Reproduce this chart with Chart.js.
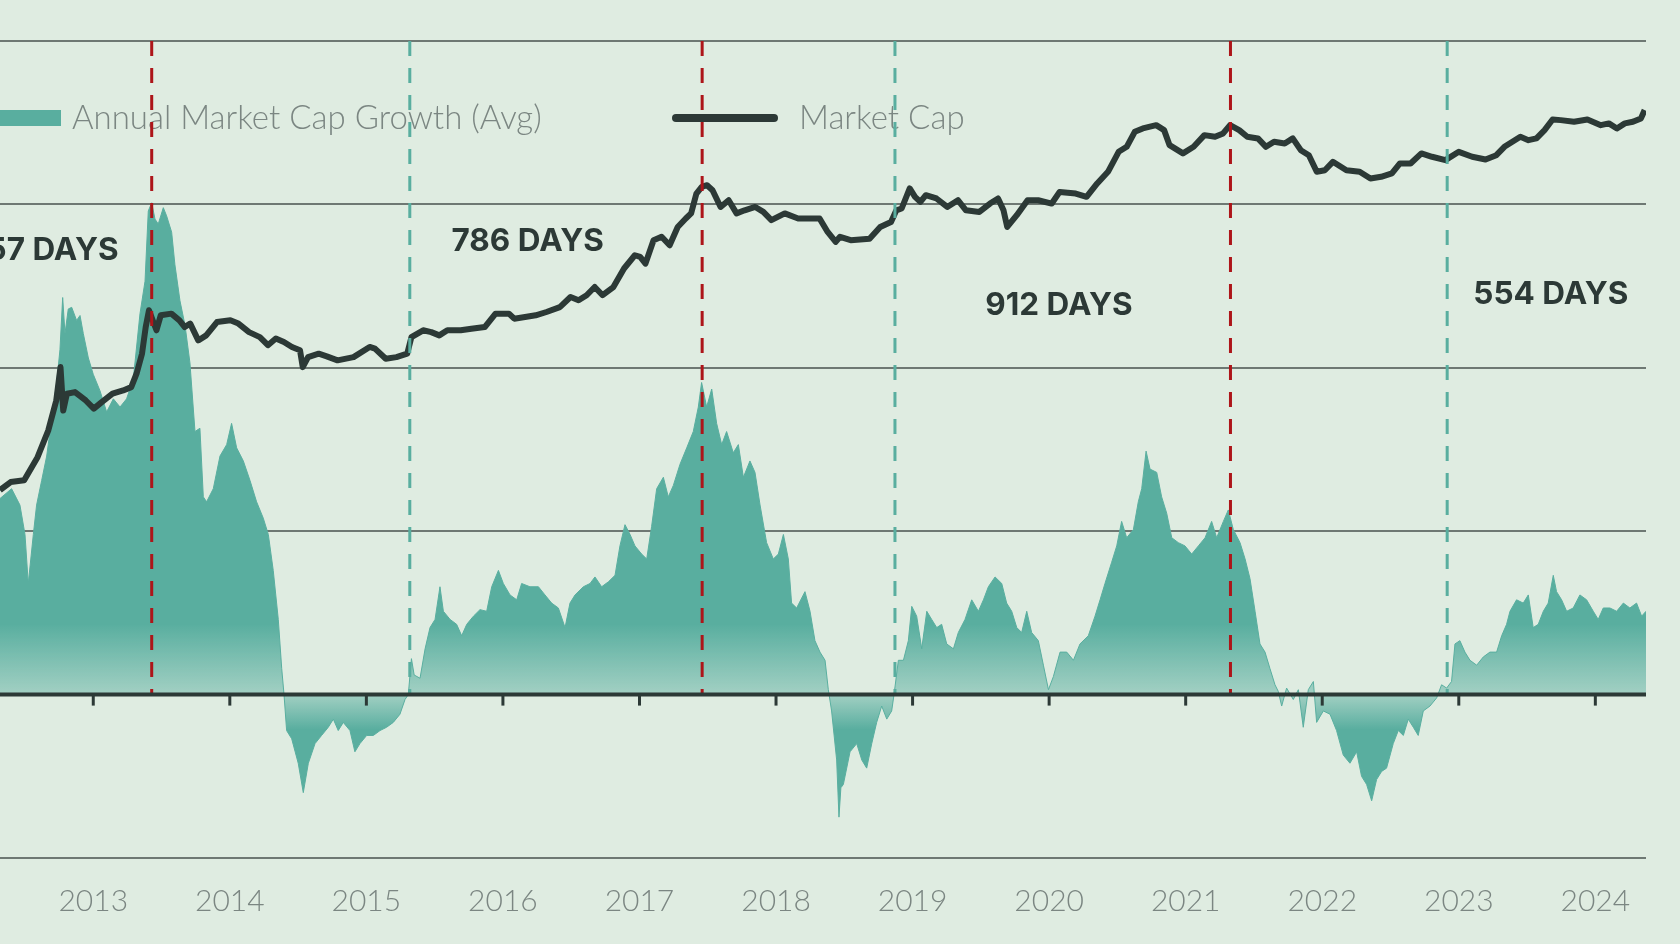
<!DOCTYPE html>
<html lang="en">
<head>
    <meta charset="UTF-8">
    <title>Market Cap Cycles</title>
    <script src="https://cdn.jsdelivr.net/npm/chart.js"></script>
    <style>
        html, body { margin: 0; padding: 0; background: #dfece1; overflow: hidden; }
        .chart-container { position: relative; width: 1680px; height: 944px; }
    </style>
</head>
<body>
<div class="chart-container"><canvas id="cycles"></canvas></div>
<script>
    // Annual market cap growth (avg), % - decimal year / value
    const growthDates = [
        2012.317, 2012.402, 2012.463, 2012.500, 2012.524, 2012.561, 2012.585, 2012.622, 2012.659, 2012.683,
        2012.732, 2012.756, 2012.776, 2012.793, 2012.817, 2012.842, 2012.878, 2012.903, 2012.927, 2012.964,
        2013.000, 2013.049, 2013.098, 2013.147, 2013.196, 2013.244, 2013.293, 2013.342, 2013.379, 2013.403,
        2013.428, 2013.452, 2013.476, 2013.513, 2013.537, 2013.574, 2013.598, 2013.635, 2013.672, 2013.708,
        2013.745, 2013.781, 2013.806, 2013.830, 2013.879, 2013.928, 2013.977, 2014.013, 2014.050, 2014.099,
        2014.148, 2014.196, 2014.245, 2014.282, 2014.318, 2014.355, 2014.380, 2014.397, 2014.416, 2014.453,
        2014.501, 2014.538, 2014.575, 2014.624, 2014.672, 2014.721, 2014.758, 2014.794, 2014.831, 2014.880,
        2014.916, 2014.953, 2015.002, 2015.051, 2015.100, 2015.148, 2015.197, 2015.246, 2015.283, 2015.307,
        2015.330, 2015.350, 2015.393, 2015.430, 2015.466, 2015.503, 2015.539, 2015.564, 2015.613, 2015.661,
        2015.698, 2015.735, 2015.784, 2015.832, 2015.881, 2015.918, 2015.967, 2016.003, 2016.052, 2016.101,
        2016.137, 2016.198, 2016.260, 2016.308, 2016.357, 2016.406, 2016.455, 2016.491, 2016.528, 2016.589,
        2016.638, 2016.674, 2016.723, 2016.772, 2016.821, 2016.857, 2016.894, 2016.931, 2016.967, 2017.016,
        2017.053, 2017.089, 2017.126, 2017.175, 2017.211, 2017.248, 2017.297, 2017.346, 2017.394, 2017.431,
        2017.455, 2017.492, 2017.529, 2017.565, 2017.602, 2017.638, 2017.687, 2017.724, 2017.761, 2017.809,
        2017.846, 2017.883, 2017.931, 2017.980, 2018.017, 2018.054, 2018.090, 2018.114, 2018.151, 2018.212,
        2018.249, 2018.285, 2018.322, 2018.359, 2018.383, 2018.407, 2018.444, 2018.461, 2018.475, 2018.493,
        2018.542, 2018.591, 2018.628, 2018.664, 2018.701, 2018.737, 2018.774, 2018.811, 2018.847, 2018.864,
        2018.896, 2018.933, 2018.969, 2018.994, 2019.030, 2019.067, 2019.104, 2019.140, 2019.177, 2019.213,
        2019.250, 2019.299, 2019.335, 2019.384, 2019.433, 2019.482, 2019.519, 2019.555, 2019.604, 2019.653,
        2019.689, 2019.726, 2019.763, 2019.799, 2019.836, 2019.872, 2019.921, 2019.958, 2019.995, 2020.031,
        2020.080, 2020.129, 2020.178, 2020.226, 2020.287, 2020.336, 2020.373, 2020.409, 2020.458, 2020.495,
        2020.531, 2020.568, 2020.617, 2020.653, 2020.678, 2020.710, 2020.739, 2020.788, 2020.824, 2020.861,
        2020.898, 2020.946, 2020.995, 2021.044, 2021.093, 2021.142, 2021.190, 2021.227, 2021.276, 2021.312,
        2021.349, 2021.398, 2021.435, 2021.471, 2021.508, 2021.544, 2021.581, 2021.617, 2021.654, 2021.678,
        2021.703, 2021.739, 2021.788, 2021.825, 2021.861, 2021.898, 2021.935, 2021.959, 2022.008, 2022.057,
        2022.105, 2022.154, 2022.203, 2022.252, 2022.288, 2022.325, 2022.362, 2022.398, 2022.435, 2022.471,
        2022.520, 2022.557, 2022.594, 2022.630, 2022.667, 2022.703, 2022.740, 2022.789, 2022.838, 2022.874,
        2022.911, 2022.947, 2022.972, 2023.008, 2023.045, 2023.082, 2023.131, 2023.179, 2023.228, 2023.277,
        2023.314, 2023.350, 2023.375, 2023.423, 2023.472, 2023.509, 2023.545, 2023.582, 2023.619, 2023.655,
        2023.692, 2023.716, 2023.753, 2023.790, 2023.838, 2023.887, 2023.936, 2023.985, 2024.021, 2024.058,
        2024.107, 2024.156, 2024.205, 2024.253, 2024.302, 2024.339, 2024.371
    ];
    const growthValues = [
        120, 126, 116, 98, 68, 98, 116, 131, 146, 161,
        191, 211, 243, 221, 236, 237, 229, 232, 221, 206,
        196, 186, 173, 181, 176, 181, 193, 233, 253, 296,
        301, 291, 288, 298, 293, 283, 263, 241, 226, 203,
        161, 163, 121, 118, 126, 146, 153, 166, 151, 143,
        131, 118, 108, 98, 76, 46, 16, 0, -22, -27,
        -42, -60, -42, -30, -25, -20, -15, -22, -17, -22,
        -35, -30, -25, -25, -22, -20, -17, -12, -3, 0,
        22, 12, 10, 28, 41, 46, 66, 51, 46, 43,
        36, 43, 48, 52, 51, 66, 76, 68, 61, 58,
        68, 66, 66, 61, 56, 53, 41, 56, 61, 66,
        68, 72, 66, 69, 73, 91, 104, 98, 91, 86,
        83, 103, 126, 133, 121, 128, 141, 151, 161, 176,
        191, 176, 187, 166, 153, 161, 148, 153, 133, 143,
        136, 116, 93, 83, 86, 98, 83, 56, 53, 63,
        51, 33, 26, 21, 3, -10, -40, -75, -57, -55,
        -35, -30, -40, -45, -30, -17, -7, -15, -10, 0,
        21, 21, 33, 54, 48, 28, 51, 46, 41, 43,
        31, 28, 38, 46, 58, 51, 58, 66, 72, 68,
        56, 51, 41, 38, 51, 38, 33, 18, 3, 11,
        26, 26, 21, 31, 36, 48, 58, 68, 81, 91,
        106, 96, 101, 118, 126, 149, 138, 136, 121, 111,
        96, 93, 91, 86, 91, 96, 106, 96, 106, 113,
        101, 93, 83, 71, 51, 31, 26, 16, 6, 2,
        -7, 4, -3, 3, -20, 3, 8, -17, -10, -12,
        -22, -37, -42, -35, -50, -55, -65, -52, -47, -45,
        -30, -22, -25, -15, -20, -25, -10, -7, -2, 6,
        4, 8, 31, 33, 26, 21, 18, 23, 26, 26,
        36, 43, 51, 58, 56, 61, 41, 43, 51, 56,
        73, 63, 58, 51, 53, 61, 58, 51, 46, 53,
        53, 51, 56, 53, 56, 48, 51
    ];

    // Market cap, USD billions (log axis)
    const capDates = [
        2012.317, 2012.395, 2012.494, 2012.592, 2012.670, 2012.729, 2012.760, 2012.780, 2012.807, 2012.866,
        2012.945, 2013.004, 2013.062, 2013.141, 2013.219, 2013.278, 2013.317, 2013.357, 2013.384, 2013.408,
        2013.435, 2013.463, 2013.494, 2013.572, 2013.631, 2013.670, 2013.710, 2013.769, 2013.827, 2013.906,
        2014.004, 2014.063, 2014.141, 2014.220, 2014.279, 2014.337, 2014.396, 2014.455, 2014.514, 2014.534,
        2014.573, 2014.651, 2014.710, 2014.789, 2014.906, 2015.024, 2015.063, 2015.142, 2015.220, 2015.299,
        2015.330, 2015.416, 2015.475, 2015.534, 2015.593, 2015.691, 2015.769, 2015.867, 2015.946, 2016.044,
        2016.083, 2016.162, 2016.240, 2016.319, 2016.417, 2016.495, 2016.554, 2016.613, 2016.672, 2016.730,
        2016.809, 2016.887, 2016.966, 2017.005, 2017.044, 2017.103, 2017.162, 2017.221, 2017.280, 2017.339,
        2017.378, 2017.417, 2017.456, 2017.495, 2017.535, 2017.594, 2017.653, 2017.711, 2017.770, 2017.848,
        2017.907, 2017.966, 2018.064, 2018.162, 2018.319, 2018.378, 2018.437, 2018.469, 2018.547, 2018.685,
        2018.763, 2018.842, 2018.881, 2018.920, 2018.979, 2019.018, 2019.057, 2019.097, 2019.175, 2019.254,
        2019.332, 2019.391, 2019.489, 2019.567, 2019.626, 2019.666, 2019.693, 2019.763, 2019.842, 2019.920,
        2020.019, 2020.077, 2020.195, 2020.274, 2020.352, 2020.431, 2020.509, 2020.568, 2020.627, 2020.686,
        2020.784, 2020.842, 2020.882, 2020.980, 2021.058, 2021.137, 2021.215, 2021.274, 2021.325, 2021.392,
        2021.451, 2021.529, 2021.588, 2021.647, 2021.725, 2021.784, 2021.843, 2021.902, 2021.960, 2022.019,
        2022.078, 2022.177, 2022.274, 2022.353, 2022.431, 2022.510, 2022.569, 2022.647, 2022.726, 2022.804,
        2022.902, 2023.000, 2023.098, 2023.196, 2023.275, 2023.334, 2023.451, 2023.510, 2023.569, 2023.628,
        2023.687, 2023.746, 2023.844, 2023.942, 2024.040, 2024.099, 2024.158, 2024.216, 2024.275, 2024.334,
        2024.361
    ];
    const capValues = [
        0.40, 0.48, 0.50, 0.84, 1.53, 3.02, 6.41, 2.41, 3.52, 3.65,
        3.02, 2.51, 2.91, 3.52, 3.79, 4.08, 5.52, 8.67, 15.8, 23.1,
        18.4, 14.7, 20.6, 21.4, 18.4, 15.8, 17.1, 11.7, 13.1, 17.7,
        18.4, 17.1, 14.1, 12.6, 10.5, 12.2, 11.3, 10.1, 9.35, 6.41,
        8.03, 8.67, 8.16, 7.46, 8.03, 10.1, 9.71, 7.74, 8.03, 8.67,
        12.6, 14.7, 14.1, 13.1, 14.7, 14.7, 15.2, 15.8, 21.4, 21.4,
        19.1, 19.8, 20.6, 22.2, 24.8, 31.1, 28.9, 32.4, 39.0, 32.4,
        39.0, 59.2, 79.8, 76.8, 66.2, 112, 121, 100, 151, 183,
        205, 321, 373, 387, 346, 237, 276, 205, 220, 237,
        212, 176, 205, 183, 183, 135, 108, 121, 112, 116,
        151, 169, 220, 229, 360, 298, 266, 309, 287, 237,
        276, 220, 212, 256, 287, 220, 151, 197, 276, 276,
        256, 333, 321, 298, 403, 524, 822, 920, 1291, 1393,
        1500, 1340, 955, 793, 920, 1197, 1153, 1245, 1500, 1340,
        1153, 1112, 920, 1030, 993, 1112, 853, 762, 524, 543,
        656, 543, 524, 451, 468, 505, 632, 632, 793, 735,
        681, 822, 735, 692, 762, 920, 1153, 1069, 1112, 1340,
        1706, 1680, 1617, 1706, 1500, 1560, 1393, 1560, 1617, 1746,
        2107
    ];

    const yearTicks = [2013, 2014, 2015, 2016, 2017, 2018, 2019, 2020, 2021, 2022, 2023, 2024];
    const peakDates = [2013.428, 2017.459, 2021.328];
    const bottomDates = [2015.318, 2018.871, 2022.915];
    const cycleLabels = ['557 DAYS', '786 DAYS', '912 DAYS', '554 DAYS'];

    const TEAL = '#59ae9f';
    const DARK = '#2c3936';
    const RED = '#ad1519';
    const GRID = '#6e7873';
    const MUTED = '#7b8682';

    // where each day-count label sits, in data units (x: year, y: growth axis)
    const cycleNotes = [
        {x: 2012.628, y: 272},
        {x: 2016.181, y: 277},
        {x: 2020.072, y: 238},
        {x: 2023.674, y: 245}
    ];

    const overlay = {
        id: 'overlay',
        afterDatasetsDraw(chart) {
            const {ctx, chartArea, scales: {x, y}} = chart;
            const zero = y.getPixelForValue(0);
            ctx.save();

            // legend, drawn inside the plot
            ctx.fillStyle = TEAL;
            ctx.fillRect(0, 110, 61, 16);
            ctx.font = '300 33px Lato';
            ctx.fillStyle = MUTED;
            ctx.textAlign = 'left';
            ctx.textBaseline = 'alphabetic';
            ctx.fillText(chart.data.datasets[1].label, 72, 129);
            ctx.strokeStyle = DARK;
            ctx.lineWidth = 8;
            ctx.lineCap = 'round';
            ctx.beginPath();
            ctx.moveTo(676, 118);
            ctx.lineTo(774, 118);
            ctx.stroke();
            ctx.fillText(chart.data.datasets[0].label, 799, 129);

            // cycle tops (red) and bottoms (teal)
            ctx.lineCap = 'butt';
            ctx.lineWidth = 3;
            ctx.setLineDash([15, 12]);
            const vline = (d, color) => {
                const px = x.getPixelForValue(d);
                ctx.strokeStyle = color;
                ctx.beginPath();
                ctx.moveTo(px, chartArea.top);
                ctx.lineTo(px, zero);
                ctx.stroke();
            };
            peakDates.forEach(d => vline(d, RED));
            bottomDates.forEach(d => vline(d, TEAL));
            ctx.setLineDash([]);

            // zero axis with year ticks
            ctx.strokeStyle = DARK;
            ctx.lineWidth = 4;
            ctx.beginPath();
            ctx.moveTo(chartArea.left, zero);
            ctx.lineTo(chartArea.right, zero);
            ctx.stroke();
            ctx.lineWidth = 3;
            yearTicks.forEach(yr => {
                const px = x.getPixelForValue(yr);
                ctx.beginPath();
                ctx.moveTo(px, zero);
                ctx.lineTo(px, zero + 11);
                ctx.stroke();
            });

            // day counts
            ctx.font = '700 31.5px Inter';
            ctx.fillStyle = DARK;
            ctx.textAlign = 'center';
            ctx.textBaseline = 'middle';
            cycleNotes.forEach((n, i) => {
                ctx.fillText(cycleLabels[i], x.getPixelForValue(n.x), y.getPixelForValue(n.y));
            });
            ctx.restore();
        }
    };

    const ctx = document.getElementById('cycles').getContext('2d');
    new Chart(ctx, {
        type: 'line',
        data: {
            datasets: [
                {
                    label: 'Market Cap',
                    data: capDates.map((d, i) => ({x: d, y: capValues[i]})),
                    yAxisID: 'y1',
                    borderColor: DARK,
                    borderWidth: 6,
                    borderJoinStyle: 'round',
                    pointRadius: 0,
                    tension: 0,
                    fill: false,
                    order: 0
                },
                {
                    label: 'Annual Market Cap Growth (Avg)',
                    data: growthDates.map((d, i) => ({x: d, y: growthValues[i]})),
                    yAxisID: 'y',
                    borderColor: TEAL,
                    borderWidth: 1,
                    pointRadius: 0,
                    tension: 0,
                    fill: 'origin',
                    order: 1,
                    backgroundColor: (c) => {
                        const {chart} = c;
                        if (!chart.chartArea) return TEAL;
                        const z = chart.scales.y.getPixelForValue(0);
                        const g = chart.ctx.createLinearGradient(0, z - 70, 0, z + 35);
                        g.addColorStop(0, TEAL);
                        g.addColorStop(70 / 105, 'rgba(89,174,159,0.45)');
                        g.addColorStop(1, TEAL);
                        return g;
                    }
                }
            ]
        },
        options: {
            responsive: true,
            maintainAspectRatio: false,
            animation: false,
            devicePixelRatio: 1,
            layout: {padding: {left: 0, right: 34, top: 41, bottom: 0}},
            plugins: {
                legend: {display: false},
                tooltip: {enabled: false}
            },
            scales: {
                x: {
                    type: 'linear',
                    min: 2012.317,
                    max: 2024.371,
                    afterBuildTicks: (scale) => {
                        scale.ticks = yearTicks.map(v => ({value: v}));
                    },
                    grid: {display: false, drawTicks: false},
                    border: {display: false},
                    ticks: {
                        color: MUTED,
                        font: {family: 'Lato', size: 30, weight: '300'},
                        padding: 25,
                        maxRotation: 0,
                        autoSkip: false,
                        callback: (v) => String(v)
                    }
                },
                y: {
                    min: -100,
                    max: 400,
                    ticks: {display: false, stepSize: 100},
                    grid: {color: GRID, lineWidth: 2, drawTicks: false},
                    border: {display: false}
                },
                y1: {
                    type: 'logarithmic',
                    display: false,
                    min: 1e-4,
                    max: 1e4
                }
            }
        },
        plugins: [overlay]
    });
</script>
</body>
</html>
